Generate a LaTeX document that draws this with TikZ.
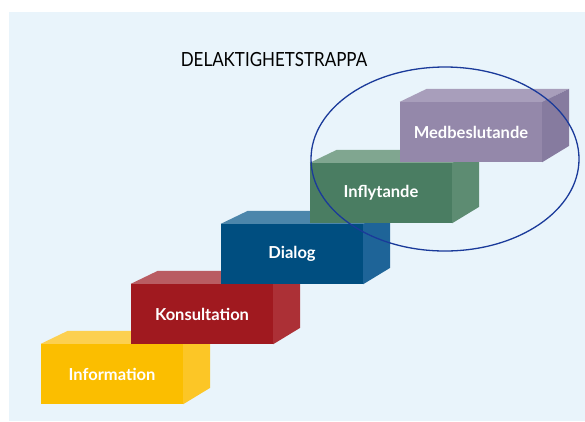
\documentclass[tikz,border=0pt]{standalone}
\usepackage{fontspec}
\setmainfont{Lato}
\newfontfamily\titlefont[FakeStretch=0.87]{Lato}
\definecolor{bgblue}{HTML}{E9F4FB}
\definecolor{infofront}{HTML}{FBBE00}
\definecolor{infotop}{HTML}{FCD050}
\definecolor{infoside}{HTML}{FCC626}
\definecolor{konsfront}{HTML}{A0191F}
\definecolor{konstop}{HTML}{B95C62}
\definecolor{konsside}{HTML}{AC3036}
\definecolor{diafront}{HTML}{004E80}
\definecolor{diatop}{HTML}{4C86AB}
\definecolor{diaside}{HTML}{1E6498}
\definecolor{inffront}{HTML}{4A7D62}
\definecolor{inftop}{HTML}{80A690}
\definecolor{infside}{HTML}{5D8C72}
\definecolor{medfront}{HTML}{9488AA}
\definecolor{medtop}{HTML}{A89EBB}
\definecolor{medside}{HTML}{867B9F}
\definecolor{ringblue}{HTML}{1A3A9A}
\tikzset{
  stepfront/.style={rectangle, minimum width=142pt, minimum height=60pt, inner sep=0pt,
    text=white, font=\fontsize{16.5}{18}\selectfont\bfseries},
  titlestyle/.style={font=\titlefont\fontsize{19.5}{22}\selectfont, text=black},
}
\newcommand\stairstep[6]{%
  \node[stepfront, fill=#3] (#1) at (#2) {#6};
  \fill[#4] (#1.north west) -- ++(27,-13) -- ([shift={(27,-13)}]#1.north east) -- (#1.north east) -- cycle;
  \fill[#5] (#1.north east) -- ++(27,-13) -- ++(0,57) -- (#1.south east) -- cycle;
}
\begin{document}
\begin{tikzpicture}[x=1pt,y=-1pt]
\useasboundingbox (0,0) rectangle (585,421);
\fill[bgblue] (9,12) rectangle (585,421);
\node[titlestyle] (title) at (274,60) {DELAKTIGHETSTRAPPA};
\stairstep{info}{112,374}{infofront}{infotop}{infoside}{Information}
\stairstep{kons}{202,314}{konsfront}{konstop}{konsside}{Konsultation}
\stairstep{dia}{292,254}{diafront}{diatop}{diaside}{Dialog}
\stairstep{infl}{381,193}{inffront}{inftop}{infside}{Inflytande}
\stairstep{med}{471,132}{medfront}{medtop}{medside}{Medbeslutande}
\draw[ringblue, line width=1.3pt] (445,159) ellipse [x radius=134, y radius=92];
\end{tikzpicture}
\end{document}
